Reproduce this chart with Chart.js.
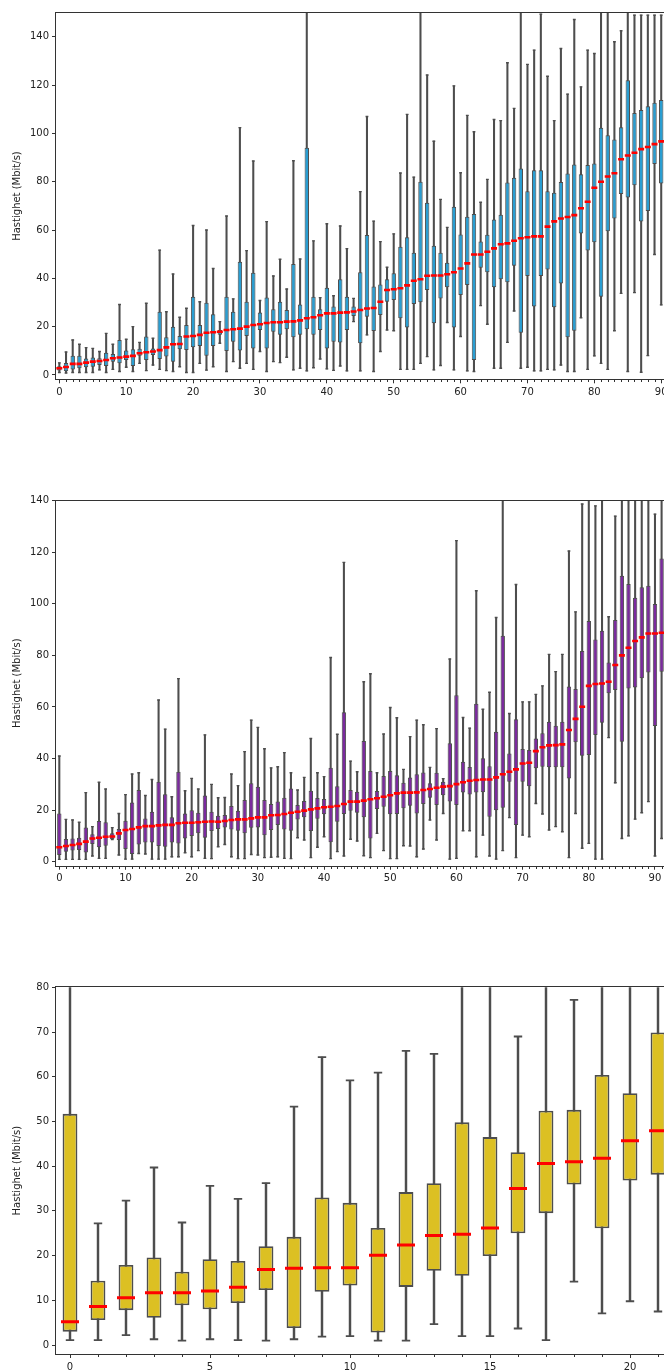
<!DOCTYPE html>
<html>
<head>
<meta charset="utf-8">
<title>Hastighet</title>
<script src="https://cdn.jsdelivr.net/npm/chart.js@4.4.1/dist/chart.umd.min.js"></script>
<style>
  html, body { margin: 0; padding: 0; background: #fff; overflow: hidden; width: 664px; height: 1370px; position: relative; }
  canvas { position: absolute; left: 0; }
</style>
</head>
<body>
<canvas id="c1" width="720" height="405" style="top:0px"></canvas>
<canvas id="c2" width="720" height="405" style="top:485px"></canvas>
<canvas id="c3" width="720" height="400" style="top:970px"></canvas>
<script>
// ---- Panel 1 (blue): whisker low, Q1, median, Q3, whisker high per category ----
const P1_LO  = [1.0,0.8,1.0,1.0,1.0,1.0,2.1,1.0,2.3,1.4,3.2,1.4,4.8,1.8,4.1,2.3,1.8,1.4,3.4,1.0,
                1.0,4.8,2.0,3.4,13.1,1.4,5.5,2.8,4.8,2.3,9.7,1.4,5.5,5.1,7.3,2.1,2.8,1.7,3.0,6.6,
                2.5,1.9,3.7,1.7,22.1,1.7,16.6,1.4,9.7,18.6,18.3,2.3,2.3,2.3,4.8,7.6,2.1,3.9,21.7,2.1,
                15.9,1.7,1.4,28.7,21.0,2.8,2.8,13.5,26.5,2.8,3.2,1.7,1.7,2.3,2.1,4.1,1.4,1.4,23.7,2.3,
                7.9,4.8,2.3,18.3,33.8,1.4,34.1,1.1,8.0,49.9,29.0];
const P1_Q1  = [1.8,1.5,2.3,2.8,3.2,3.4,4.1,3.7,5.5,4.8,6.2,3.7,7.9,6.2,8.3,6.6,7.6,5.5,10.6,10.3,
                11.5,12.0,7.9,12.0,16.6,9.9,13.8,10.1,16.1,11.0,18.6,11.0,17.9,16.6,18.9,15.6,16.6,18.9,16.6,18.6,
                11.0,13.8,13.4,18.6,24.4,13.1,24.1,18.2,24.8,30.3,31.0,23.5,19.6,29.4,30.1,35.2,21.4,31.7,36.3,19.7,
                33.1,37.2,6.2,44.4,42.5,36.3,39.6,38.4,45.2,17.5,41.0,28.3,41.0,43.7,28.0,37.9,15.6,18.3,58.6,51.5,
                55.0,32.4,59.5,64.8,74.9,73.5,78.6,63.5,67.9,87.3,79.3];
const P1_MED = [2.8,3.3,4.6,4.6,5.1,5.5,5.8,6.2,6.9,7.2,7.6,7.9,9.0,9.4,9.7,10.3,11.4,12.7,12.8,15.9,
                16.1,16.6,17.5,17.7,17.9,18.6,18.9,19.2,20.0,20.7,21.0,21.5,21.8,21.8,22.1,22.2,22.6,23.5,23.9,24.7,
                25.5,25.5,25.8,25.9,26.3,26.9,27.5,27.7,30.3,35.2,35.5,35.9,37.1,39.0,39.6,41.1,41.2,41.2,41.7,42.5,
                44.1,46.2,49.9,49.9,51.0,52.4,54.1,54.5,55.6,56.6,57.0,57.4,57.4,61.4,63.6,64.8,65.4,66.2,69.0,71.7,
                77.5,80.0,82.2,83.5,89.3,90.9,92.0,93.5,94.4,95.6,96.7];
const P1_Q3  = [3.6,5.0,7.9,7.9,6.8,7.2,6.9,9.2,8.7,14.5,10.1,10.6,10.8,15.9,11.0,26.2,15.6,20.0,16.1,20.7,
                32.4,20.7,29.9,25.1,18.6,32.4,26.2,46.9,30.3,42.3,25.9,32.1,27.2,30.3,26.9,45.9,29.2,94.1,32.4,27.2,
                36.1,28.3,39.6,32.4,28.3,42.5,57.9,36.6,37.5,39.6,42.1,53.1,57.0,50.6,80.0,71.3,53.5,50.6,46.5,69.6,
                58.2,65.5,66.6,55.3,58.1,64.4,66.3,79.7,81.7,85.5,76.1,84.8,84.8,76.1,75.4,79.9,83.4,87.1,83.1,86.9,
                87.6,102.4,99.3,97.5,102.6,122.0,108.5,109.7,111.3,112.7,113.8];
const P1_HI  = [5.0,9.5,14.5,12.7,11.3,11.0,9.7,17.2,12.7,29.2,14.8,20.0,13.5,29.7,15.2,51.7,26.2,41.8,23.9,27.6,
                61.9,30.3,60.0,44.1,22.1,65.8,31.5,102.4,51.5,88.6,30.8,63.5,41.0,47.9,35.6,88.7,48.0,175,55.5,32.0,
                62.6,32.8,61.7,52.3,31.7,75.9,107.0,63.7,55.2,44.6,58.4,83.6,107.9,81.9,168,124.2,96.8,72.7,61.1,119.7,
                83.7,107.5,100.7,71.5,81.0,105.8,105.3,129.3,110.4,172,128.6,134.5,149.4,123.7,105.3,135.2,116.3,147.2,119.3,134.5,
                133.1,178,165,138.0,142.5,185,149.0,149.0,149.0,149.0,149.0];

// ---- Panel 2 (purple) ----
const P2_LO  = [0.9,0.9,0.9,0.9,0.9,2.2,1.3,1.3,8.6,2.6,1.0,1.0,3.2,3.0,1.0,1.0,1.0,1.9,1.9,3.5,
                1.9,4.3,1.3,1.2,5.8,6.7,1.9,1.2,1.2,2.8,2.6,1.6,1.7,1.9,1.3,1.2,9.3,8.4,1.6,5.6,
                9.7,1.2,3.9,2.2,8.7,8.0,2.3,1.6,11.0,4.3,1.2,1.2,6.2,6.1,1.9,4.9,16.2,8.4,18.7,1.0,
                1.3,12.0,12.0,1.9,10.3,2.2,1.0,4.3,17.1,1.6,10.3,9.7,22.6,18.5,12.3,13.6,11.6,1.6,18.7,5.2,
                7.1,1.0,1.0,48.1,30.6,9.0,10.0,16.5,19.0,23.3,2.2,9.0];
const P2_Q1  = [2.6,3.9,4.3,4.5,3.6,6.9,5.6,6.2,8.7,8.4,4.9,3.0,6.7,7.4,7.4,6.1,5.8,7.4,7.1,9.0,
                10.0,11.0,9.3,11.9,12.7,13.3,12.5,12.0,11.0,13.2,13.3,10.3,12.3,14.2,12.5,12.0,16.4,17.2,11.9,16.7,
                18.4,7.5,15.5,18.5,19.8,19.0,17.2,9.0,20.4,21.3,18.4,18.5,20.7,21.7,18.7,22.4,24.8,22.0,25.8,23.3,
                22.0,26.8,26.1,26.8,26.9,17.4,20.0,20.9,31.0,14.2,31.0,29.3,36.2,36.8,36.6,36.6,36.6,32.3,46.3,41.1,
                41.4,49.1,53.9,65.3,66.6,46.5,67.2,67.6,71.1,73.4,52.6,73.7];
const P2_MED = [5.6,6.1,6.5,6.9,7.8,9.0,9.3,9.7,9.8,11.0,12.3,12.7,13.3,13.8,13.8,14.1,14.3,14.3,14.9,15.1,
                15.1,15.3,15.5,15.6,15.5,15.8,16.2,16.4,16.4,16.8,17.2,17.2,18.0,18.1,18.5,19.0,19.4,19.8,20.3,20.7,
                21.1,21.3,21.6,22.4,23.3,23.3,23.7,24.2,24.6,25.2,25.8,26.5,26.8,26.8,26.9,27.8,28.2,28.7,29.1,29.3,
                30.1,30.8,31.4,31.7,31.9,31.9,32.7,33.9,34.9,35.8,38.1,38.4,42.9,44.4,45.1,45.2,45.5,51.1,55.4,60.1,
                68.2,68.9,69.1,69.8,76.3,80.0,83.0,85.6,87.0,88.5,88.5,88.8];
const P2_Q3  = [18.7,8.8,9.0,9.3,13.3,10.6,15.8,15.3,11.0,12.7,15.9,23.0,27.8,16.8,19.4,31.0,26.2,17.2,34.9,18.7,
                20.0,19.0,25.7,19.4,17.8,18.1,21.6,19.8,23.9,30.4,29.1,23.9,22.4,23.3,24.8,28.4,22.0,23.5,27.5,24.7,
                24.3,36.4,29.3,58.0,27.8,27.1,46.8,35.2,27.4,33.2,35.2,33.5,30.6,32.7,33.9,34.6,30.4,34.5,31.0,45.9,
                64.6,38.8,36.7,61.3,40.1,37.0,50.4,87.6,42.0,55.2,43.7,43.3,47.8,49.8,54.3,52.7,54.3,67.9,67.0,81.7,
                93.3,86.2,89.6,77.3,93.7,110.9,107.7,102.4,106.4,107.0,99.9,117.6];
const P2_HI  = [41.0,16.4,16.2,15.3,26.8,13.6,30.8,28.2,13.2,18.7,26.0,34.0,34.5,25.7,31.9,62.7,51.4,25.2,71.0,27.5,
                32.3,28.2,49.2,30.0,24.8,24.9,34.0,29.5,42.7,54.9,52.1,43.8,36.4,36.8,42.3,34.5,27.8,32.7,47.8,34.5,
                33.0,79.2,49.4,116.1,39.0,34.9,69.8,72.9,34.5,49.5,59.8,55.8,35.8,48.5,54.9,53.1,36.6,51.6,32.2,78.6,
                124.5,55.9,51.8,105.1,59.1,65.7,94.7,165,57.5,107.5,62.0,62.0,64.9,68.2,80.4,73.7,80.4,120.5,96.9,138.7,
                160,138.0,158,95.0,134.0,170,162,155,158,150,134.8,168];

// ---- Panel 3 (yellow) ----
const P3_LO  = [1.1,1.1,2.2,1.3,1.0,1.3,1.1,1.0,1.3,1.9,2.0,1.0,1.0,4.7,2.0,2.0,3.7,1.1,14.2,7.1,9.8,7.5];
const P3_Q1  = [3.0,5.6,7.8,6.1,8.9,8.0,9.4,12.3,3.8,11.9,13.3,2.8,13.0,16.6,15.5,19.9,25.0,29.5,35.9,26.1,36.8,38.1];
const P3_MED = [5.2,8.6,10.6,11.7,11.7,12.1,12.9,16.9,17.2,17.3,17.3,20.1,22.4,24.5,24.8,26.2,35.0,40.6,41.0,41.8,45.7,47.9];
const P3_Q3  = [51.7,14.4,17.9,19.6,16.4,19.2,18.8,22.1,24.2,33.0,31.8,26.2,34.2,36.2,49.8,46.5,43.1,52.4,52.6,60.4,56.3,69.9];
const P3_HI  = [95,27.2,32.3,39.7,27.4,35.6,32.7,36.2,53.3,64.4,59.2,60.9,65.8,65.1,92,88,69.0,96,77.2,100,92,120];

// ---- Axis ticks ----
const X_TICKS_1 = [0,10,20,30,40,50,60,70,80,90];
const X_TICKS_2 = [0,10,20,30,40,50,60,70,80,90];
const X_TICKS_3 = [0,5,10,15,20];
const Y_TICKS_1 = [0,20,40,60,80,100,120,140];
const Y_TICKS_2 = [0,20,40,60,80,100,120,140];
const Y_TICKS_3 = [0,10,20,30,40,50,60,70,80];
const Y_TITLE = 'Hastighet (Mbit/s)';

const EDGE = '#4d4d4d';
const TEXT = '#222222';
const FONT = { family: 'DejaVu Sans', size: 10 };

function range(n) { const a = []; for (let i = 0; i < n; i++) a.push(String(i)); return a; }

// axis frame around the plotting area, plus short minor ticks on the x axis
const framePlugin = {
  id: 'frame',
  afterDraw(chart, args, opts) {
    const { ctx, chartArea: a } = chart;
    ctx.save();
    ctx.strokeStyle = '#333';
    ctx.lineWidth = 1;
    const l = Math.round(a.left) - 0.5, t = Math.round(a.top) - 0.5;
    const r = Math.round(a.right) + 0.5, b = Math.round(a.bottom) + 0.5;
    ctx.strokeRect(l, t, r - l, b - t);
    const xs = chart.scales.x;
    const major = opts.major || [];
    ctx.beginPath();
    for (let i = 0; i < xs.ticks.length; i++) {
      if (major.includes(i)) continue;
      const x = Math.round(xs.getPixelForTick(i)) + 0.5;
      ctx.moveTo(x, b);
      ctx.lineTo(x, b + 2.5);
    }
    ctx.stroke();
    ctx.restore();
  }
};

function boxChart(id, cfg) {
  const datasets = [
    { // whiskers
      type: 'bar', data: cfg.lo.map((v, i) => [v, cfg.hi[i]]),
      backgroundColor: EDGE, barThickness: cfg.whiskerW, grouped: false, order: 4, clip: 0
    },
    { // boxes
      type: 'bar', data: cfg.q1.map((v, i) => [v, cfg.q3[i]]),
      backgroundColor: cfg.fill, borderColor: EDGE, borderWidth: cfg.edgeW, borderSkipped: false,
      barPercentage: cfg.boxPct, categoryPercentage: 1, grouped: false, order: 3, clip: 0
    },
    { // lower caps
      type: 'line', data: cfg.lo, showLine: false, pointStyle: 'line',
      pointRadius: cfg.capR, pointBorderWidth: cfg.whiskerW, pointBorderColor: EDGE, order: 2, clip: 0
    },
    { // upper caps
      type: 'line', data: cfg.hi, showLine: false, pointStyle: 'line',
      pointRadius: cfg.capR, pointBorderWidth: cfg.whiskerW, pointBorderColor: EDGE, order: 2, clip: 0
    },
    { // medians
      type: 'line', data: cfg.med, showLine: false, pointStyle: 'line',
      pointRadius: cfg.medR, pointBorderWidth: cfg.medW, pointBorderColor: '#ff0000', order: 1, clip: 0
    }
  ];
  const canvas = document.getElementById(id);
  const H = canvas.height;
  new Chart(canvas, {
    type: 'bar',
    data: { labels: range(cfg.nCats), datasets },
    plugins: [framePlugin],
    options: {
      responsive: false, maintainAspectRatio: false, animation: false, devicePixelRatio: 1,
      events: [],
      layout: { padding: { left: 0, top: cfg.plotTop, right: canvas.width - cfg.plotRight, bottom: 0 } },
      plugins: { legend: { display: false }, tooltip: { enabled: false }, frame: { major: cfg.xTicks } },
      scales: {
        x: {
          type: 'category', offset: true,
          border: { display: false },
          grid: {
            display: true, offset: false, drawOnChartArea: false, drawTicks: true, tickLength: 4, tickWidth: 1,
            tickColor: c => cfg.xTicks.includes(c.index) ? '#333' : 'rgba(0,0,0,0)'
          },
          ticks: {
            autoSkip: false, maxRotation: 0, minRotation: 0, padding: 3, color: TEXT, font: FONT,
            callback: (v, i) => cfg.xTicks.includes(i) ? String(i) : ''
          },
          afterFit: s => { s.height = H - cfg.plotBottom; }
        },
        y: {
          min: cfg.yMin, max: cfg.yMax,
          border: { display: false },
          grid: { display: true, drawOnChartArea: false, drawTicks: true, tickLength: 4, tickColor: '#333', tickWidth: 1 },
          ticks: { padding: 3, color: TEXT, font: FONT },
          afterBuildTicks: s => { s.ticks = cfg.yTicks.map(v => ({ value: v })); },
          title: { display: true, text: Y_TITLE, color: TEXT, font: FONT, padding: { top: 11, bottom: 0 } },
          afterFit: s => { s.width = 56; }
        }
      }
    }
  });
}

boxChart('c1', {
  lo: P1_LO, q1: P1_Q1, med: P1_MED, q3: P1_Q3, hi: P1_HI,
  nCats: 96, xTicks: X_TICKS_1, yTicks: Y_TICKS_1, yMin: -1.8, yMax: 150,
  plotTop: 12.7, plotBottom: 379.3, plotRight: 698,
  fill: '#2a9ed2', edgeW: 1, boxPct: 0.66, whiskerW: 1.4, capR: 1.4, medR: 3, medW: 2.6
});
boxChart('c2', {
  lo: P2_LO, q1: P2_Q1, med: P2_MED, q3: P2_Q3, hi: P2_HI,
  nCats: 97, xTicks: X_TICKS_2, yTicks: Y_TICKS_2, yMin: -1.55, yMax: 140,
  plotTop: 15.7, plotBottom: 380.7, plotRight: 698,
  fill: '#7b2a9e', edgeW: 1, boxPct: 0.66, whiskerW: 1.4, capR: 1.4, medR: 3, medW: 2.6
});
boxChart('c3', {
  lo: P3_LO, q1: P3_Q1, med: P3_MED, q3: P3_Q3, hi: P3_HI,
  nCats: 23, xTicks: X_TICKS_3, yTicks: Y_TICKS_3, yMin: -2, yMax: 80,
  plotTop: 17.3, plotBottom: 384, plotRight: 700,
  fill: '#dcc023', edgeW: 1.8, boxPct: 0.53, whiskerW: 1.8, capR: 4.2, medR: 9, medW: 3
});
</script>
</body>
</html>
